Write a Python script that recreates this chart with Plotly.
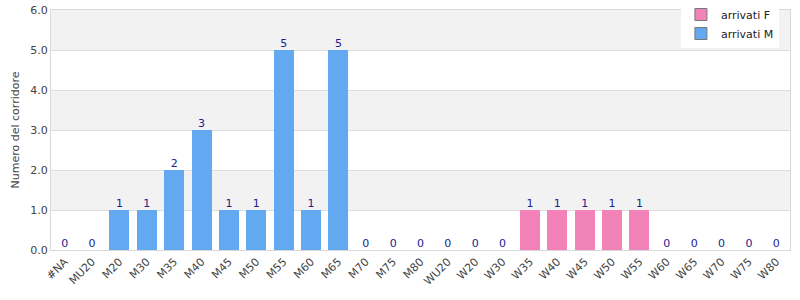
import plotly.graph_objects as go

categories = ["#NA", "MU20", "M20", "M30", "M35", "M40", "M45", "M50", "M55", "M60", "M65",
              "M70", "M75", "M80", "WU20", "W20", "W30", "W35", "W40", "W45", "W50", "W55",
              "W60", "W65", "W70", "W75", "W80"]
arrivati_m = [0, 0, 1, 1, 2, 3, 1, 1, 5, 1, 5, 0, 0, 0, 0, 0, 0, 0, 0, 0, 0, 0, 0, 0, 0, 0, 0]
arrivati_f = [0, 0, 0, 0, 0, 0, 0, 0, 0, 0, 0, 0, 0, 0, 0, 0, 0, 1, 1, 1, 1, 1, 0, 0, 0, 0, 0]
y_ticks = [0, 1, 2, 3, 4, 5, 6]

BLUE = "#62a9f2"
PINK = "#f283b9"
totals = [m + f for m, f in zip(arrivati_m, arrivati_f)]

fig = go.Figure()
fig.add_trace(go.Bar(x=categories, y=arrivati_m, marker=dict(color=BLUE, line=dict(width=0)),
                     width=0.73, showlegend=False, hoverinfo="x+y"))
fig.add_trace(go.Bar(x=categories, y=arrivati_f, marker=dict(color=PINK, line=dict(width=0)),
                     width=0.73, showlegend=False, hoverinfo="x+y"))
fig.add_trace(go.Scatter(x=categories, y=totals, mode="text", text=[str(t) for t in totals],
                         textposition="top center", textfont=dict(color="#202090", size=11),
                         showlegend=False, hoverinfo="skip", cliponaxis=False))
# legend entries
fig.add_trace(go.Bar(x=[None], y=[None], name="arrivati F",
                     marker=dict(color=PINK, line=dict(color="#777", width=1))))
fig.add_trace(go.Bar(x=[None], y=[None], name="arrivati M",
                     marker=dict(color=BLUE, line=dict(color="#777", width=1))))

shapes = []
for i in range(len(y_ticks) - 1):
    if i % 2 == 1:
        shapes.append(dict(type="rect", xref="paper", yref="y", x0=0, x1=1,
                           y0=y_ticks[i], y1=y_ticks[i + 1], fillcolor="#f2f2f2",
                           line=dict(width=0), layer="below"))

fig.update_layout(
    width=800, height=300,
    margin=dict(l=51, r=10, t=10, b=50, autoexpand=False),
    barmode="stack",
    plot_bgcolor="white", paper_bgcolor="white",
    font=dict(family="DejaVu Sans", size=11, color="#444"),
    shapes=shapes,
    legend=dict(x=0.985, xanchor="right", y=1.02, yanchor="top", yref="container",
                bgcolor="white", font=dict(size=11, color="#222"), traceorder="normal",
                itemwidth=30, tracegroupgap=0),
    xaxis=dict(tickangle=-45, showline=True, linecolor="#d8d8d8", mirror=True,
               showgrid=False, ticks="", tickfont=dict(size=11, color="#444"),
               automargin=False, range=[-0.5, len(categories) - 0.5]),
    yaxis=dict(range=[0, 6], tickvals=y_ticks, tickformat=".1f", showgrid=True,
               gridcolor="#dedede", showline=True, linecolor="#d8d8d8", mirror=True,
               zeroline=False, ticks="", automargin=False,
               title=dict(text="Numero del corridore", font=dict(size=11, color="#444"), standoff=8)),
)

fig.write_html("out.html")
